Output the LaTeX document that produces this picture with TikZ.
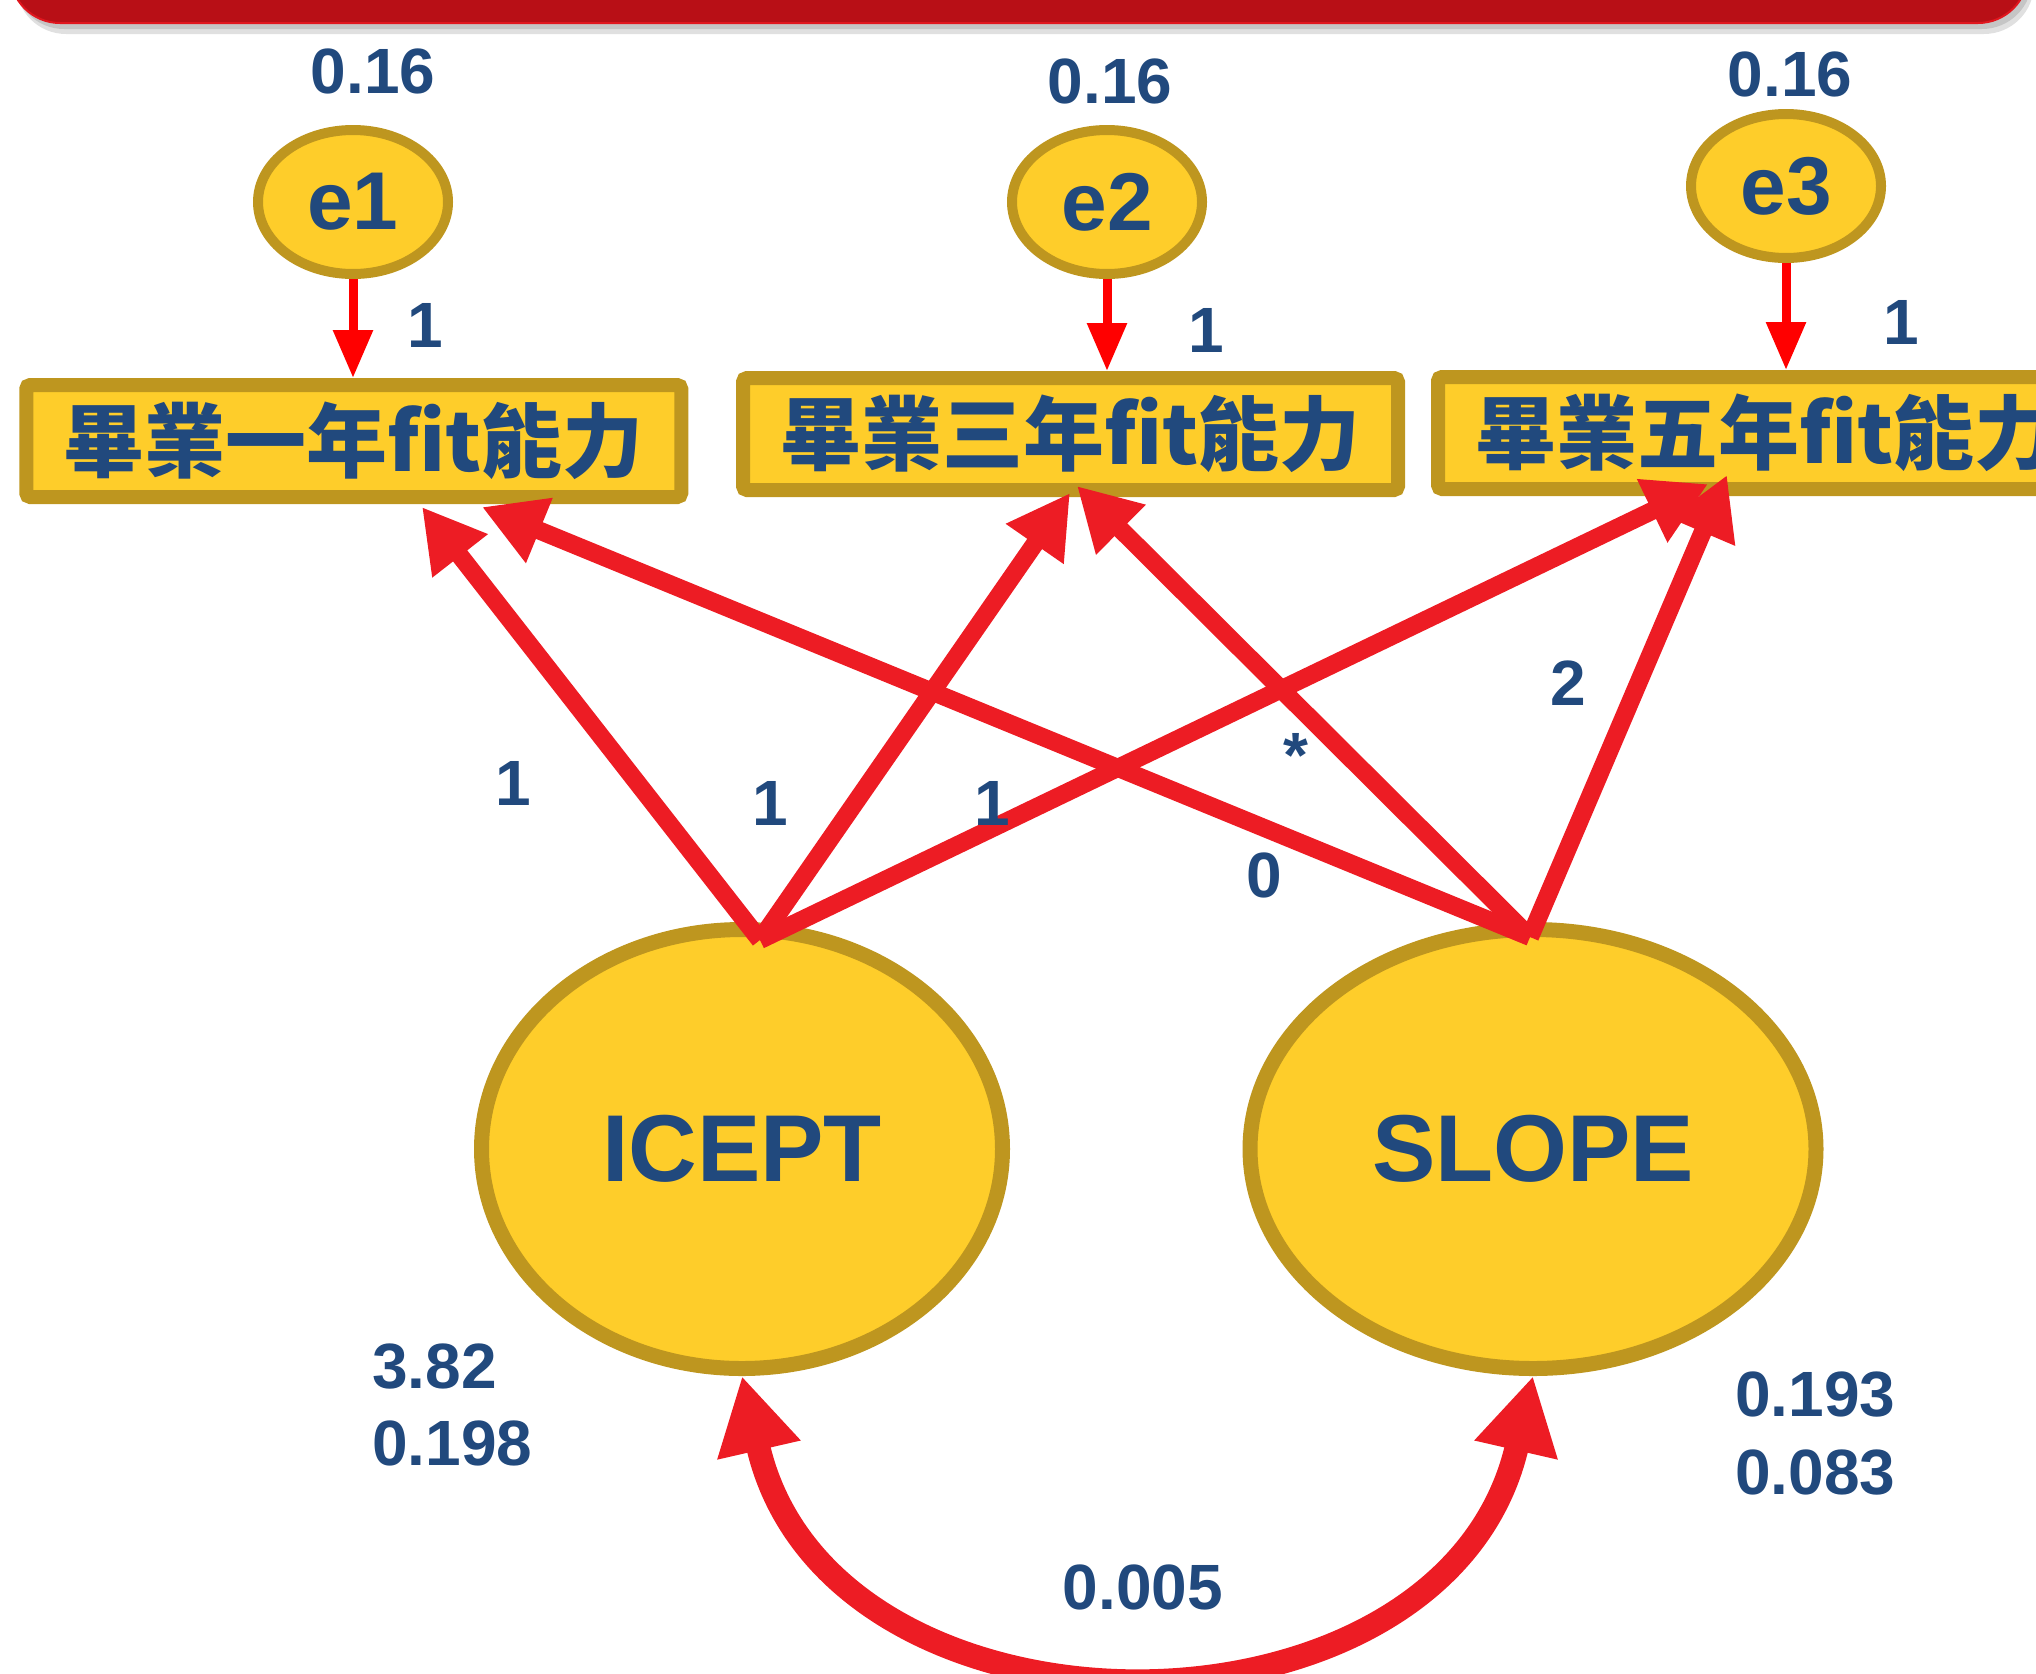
\documentclass[tikz,border=0pt]{standalone}
\usepackage{fontspec}
\setmainfont{Liberation Sans}
\newfontfamily\cjk{Noto Sans CJK TC}
\usetikzlibrary{arrows.meta,shapes.geometric}
\definecolor{fillY}{HTML}{FECD2A}
\definecolor{edgeY}{HTML}{BE961F}
\definecolor{txtB}{HTML}{21497D}
\definecolor{arrR}{HTML}{ED1C24}
\definecolor{banR}{HTML}{B80F16}
\definecolor{banE}{HTML}{E0161E}
\begin{document}
\begin{tikzpicture}[x=1pt,y=-1pt,
  lbl/.style={font=\fontsize{64}{64}\selectfont\bfseries, text=txtB, inner sep=0pt},
  latent/.style={ellipse, draw=edgeY, fill=fillY, line width=15pt, inner sep=0pt,
    minimum height=439pt, font=\fontsize{95}{95}\selectfont\bfseries, text=txtB},
  errnode/.style={ellipse, draw=edgeY, fill=fillY, line width=10pt, minimum width=190pt,
    minimum height=144pt, inner sep=0pt, font=\fontsize{82}{82}\selectfont\bfseries, text=txtB},
  obsbox/.style={rectangle, draw=edgeY, fill=fillY, line width=14pt, rounded corners=4pt,
    minimum width=655pt, minimum height=112pt, inner sep=0pt,
    font=\cjk\bfseries\fontsize{81}{81}\selectfont, text=txtB},
  earrow/.style={draw=red, line width=9pt, -{Triangle[length=48pt,width=38pt]}},
  parrow/.style={draw=arrR, line width=18pt, -{Triangle[length=62pt,width=66pt]}},
  carrow/.style={draw=arrR, line width=24pt,
    {Triangle[length=76pt,width=80pt]}-{Triangle[length=76pt,width=80pt]}}
]
\useasboundingbox (0,0) rectangle (2036,1673);
\clip (0,0) rectangle (2036,1673);

% banner
\fill[black, opacity=0.12, rounded corners=50pt] (16,-80) rectangle (2034,34);
\fill[black, opacity=0.12, rounded corners=50pt] (14,-80) rectangle (2032,29);
\filldraw[fill=banR, draw=banE, line width=2pt, rounded corners=50pt] (10,-80) rectangle (2028,23);

% error terms
\node[errnode] (e1) at (353,202) {e1};
\node[errnode] (e2) at (1107,202) {e2};
\node[errnode] (e3) at (1786,186) {e3};

\node[lbl] (v1) at (373,71) {0.16};
\node[lbl] (v2) at (1110,81) {0.16};
\node[lbl] (v3) at (1790,74) {0.16};

% observed boxes
\node[obsbox] (b1) at (353.75,441) {畢業一年fit能力};
\node[obsbox] (b2) at (1070.5,434) {畢業三年fit能力};
\node[obsbox] (b3) at (1765.5,433) {畢業五年fit能力};

\draw[earrow] (e1.south) -- (e1.south |- b1.north);
\draw[earrow] (e2.south) -- (e2.south |- b2.north);
\draw[earrow] (e3.south) -- (e3.south |- b3.north);

\node[lbl] (w1) at (425,325) {1};
\node[lbl] (w2) at (1206,330) {1};
\node[lbl] (w3) at (1901,322) {1};

% latent factors
\node[latent, minimum width=521pt] (icept) at (742,1149) {ICEPT};
\node[latent, minimum width=566pt] (slope) at (1533,1149) {SLOPE};

\coordinate (is) at (760,940);
\coordinate (ss) at (1530,937);
\coordinate (b1i) at (422,507);
\coordinate (b2i) at (1070,493);
\coordinate (b3i) at (1708,484);
\coordinate (b1s) at (482,507);
\coordinate (b2s) at (1077,486);
\coordinate (b3s) at (1727,475);

\draw[parrow] (ss) -- (b1s);
\draw[parrow] (ss) -- (b2s);
\draw[parrow] (ss) -- (b3s);
\draw[parrow] (is) -- (b1i);
\draw[parrow] (is) -- (b2i);
\draw[parrow] (is) -- (b3i);

\node[lbl] (l1) at (513,783) {1};
\node[lbl] (l2) at (770,803) {1};
\node[lbl] (l3) at (992,803) {1};
\node[lbl, anchor=north] (l4) at (1296,733) {*};
\node[lbl] (l5) at (1264,875) {0};
\node[lbl] (l6) at (1568,683) {2};

% covariance
\draw[carrow] (icept.south) .. controls (830,1760) and (1445,1760) .. (slope.south);

\node[lbl, anchor=west] (m1) at (372,1366) {3.82};
\node[lbl, anchor=west] (m2) at (372,1443) {0.198};
\node[lbl, anchor=west] (m3) at (1735,1394) {0.193};
\node[lbl, anchor=west] (m4) at (1735,1472) {0.083};
\node[lbl] (c1) at (1143,1587) {0.005};
\end{tikzpicture}
\end{document}
